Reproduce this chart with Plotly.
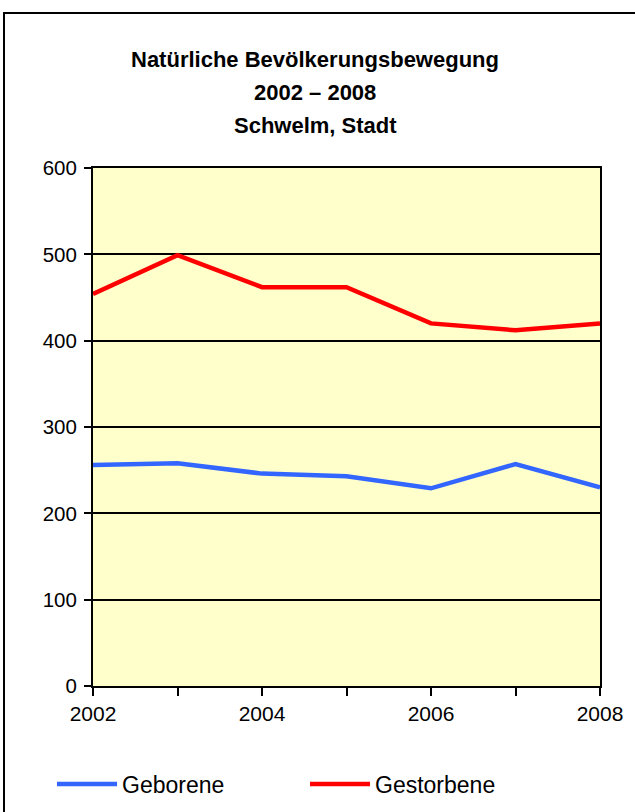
import plotly.graph_objects as go

years = [2002, 2003, 2004, 2005, 2006, 2007, 2008]
geborene = [256, 258, 246, 243, 229, 257, 230]
gestorbene = [454, 499, 462, 462, 420, 412, 420]
title_lines = ["Natürliche Bevölkerungsbewegung", "2002 – 2008", "Schwelm, Stadt"]
x_ticks = [2002, 2004, 2006, 2008]
y_ticks = [0, 100, 200, 300, 400, 500, 600]

FONT = "Liberation Sans, Arial, sans-serif"
W, H = 635, 812
L, R, T, B = 93, 35, 168, 126
pw, ph = W - L - R, H - T - B

def px_x(x):
    return (x - L) / pw

def px_y(y):
    return (H - B - y) / ph

fig = go.Figure()
fig.add_trace(go.Scatter(x=years, y=geborene, mode="lines", name="Geborene",
                         line=dict(color="#3366FF", width=4.5)))
fig.add_trace(go.Scatter(x=years, y=gestorbene, mode="lines", name="Gestorbene",
                         line=dict(color="#FF0000", width=4.5)))

for txt, yp in zip(title_lines, [60, 93, 125]):
    fig.add_annotation(text="<b>%s</b>" % txt, xref="paper", yref="paper",
                       x=px_x(315), y=px_y(yp), xanchor="center", yanchor="middle",
                       showarrow=False, font=dict(family=FONT, size=22, color="black"))

fig.add_shape(type="rect", xref="paper", yref="paper",
              x0=px_x(4), x1=px_x(660), y0=px_y(840), y1=px_y(13),
              line=dict(color="black", width=2), fillcolor="rgba(0,0,0,0)", layer="below")

fig.update_layout(
    width=W, height=H,
    margin=dict(l=L, r=R, t=T, b=B, autoexpand=False),
    paper_bgcolor="white", plot_bgcolor="#FFFFCC",
    font=dict(family=FONT, color="black"),
    showlegend=True,
    legend=dict(orientation="h", x=px_x(52), y=px_y(784), xanchor="left", yanchor="middle",
                font=dict(family=FONT, size=23, color="black"),
                entrywidth=178, entrywidthmode="pixels", itemwidth=60,
                bgcolor="rgba(0,0,0,0)"),
)
fig.update_xaxes(range=[2002, 2008], tickvals=x_ticks, ticktext=[str(v) for v in x_ticks],
                 ticks="outside", ticklen=8, tickwidth=2, tickcolor="black",
                 minor=dict(dtick=1, tick0=2002, ticks="outside", ticklen=8, tickwidth=2, tickcolor="black", showgrid=False),
                 showgrid=False, showline=True, linecolor="black", linewidth=2, mirror=True,
                 tickfont=dict(family=FONT, size=21), zeroline=False)
fig.update_yaxes(range=[0, 600], tickvals=y_ticks,
                 ticks="outside", ticklen=7, tickwidth=2, tickcolor="black",
                 showgrid=True, gridcolor="black", gridwidth=2,
                 showline=True, linecolor="black", linewidth=2, mirror=True,
                 ticklabelstandoff=3,
                 tickfont=dict(family=FONT, size=20.5), zeroline=False)

fig.write_html("out.html", config={"displayModeBar": False},
               post_script="document.body.style.margin='0';document.body.style.overflow='hidden';")
